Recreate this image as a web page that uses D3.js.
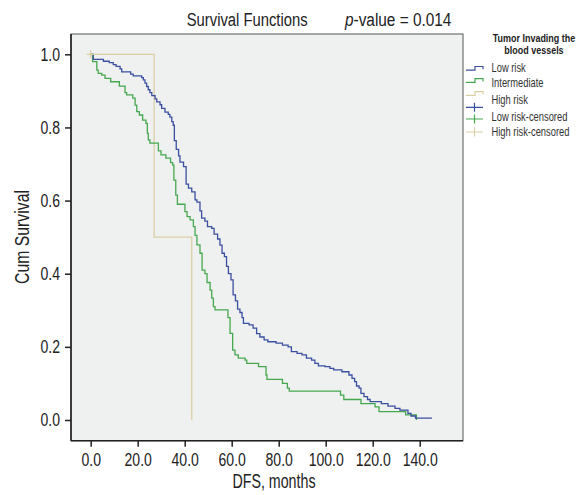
<!DOCTYPE html>
<html>
<head>
<meta charset="utf-8">
<script src="https://cdn.jsdelivr.net/npm/d3@7"></script>
<style>
  body { margin: 0; background: #fff; }
  svg text { font-family: 'Liberation Sans', Arial, sans-serif; fill: #222; }
</style>
</head>
<body>
<div id="chart"></div>
<script>
const blue  = '#3b4fa0';
const green = '#45a84f';
const tan   = '#d9cfa5';
const ink   = '#222';

// Low risk: event times (months) and survival after each step
const lowTimes = [1.1, 5.4, 7.9, 9.6, 10.8, 12.5, 13.2, 17.0, 18.1, 21.7, 22.4, 23.1, 23.8, 24.5, 25.2, 26.0,
  27.4, 28.1, 29.5, 30.2, 31.6, 33.0, 33.7, 34.5, 35.1, 35.6, 36.4, 37.4, 38.0, 39.5, 40.6, 41.6, 43.0,
  44.4, 45.2, 46.5, 47.2, 48.6, 49.7, 51.5, 52.5, 54.0, 55.0, 55.9, 56.9, 57.8, 58.6, 59.7, 60.6, 61.6,
  62.5, 63.5, 64.4, 65.0, 67.4, 69.1, 70.6, 72.0, 73.8, 75.4, 78.9, 81.6, 84.0, 85.4, 87.8, 89.9, 91.8,
  94.0, 95.4, 96.9, 99.7, 101.8, 103.4, 106.9, 109.9, 111.2, 112.3, 113.1, 114.2, 115.0, 116.3, 117.8,
  118.9, 123.7, 126.5, 129.5, 131.6, 135.0, 136.3, 138.2];
const lowSurv = [0.986, 0.981, 0.977, 0.972, 0.967, 0.960, 0.952, 0.946, 0.941, 0.936, 0.930, 0.921, 0.912, 0.903, 0.895, 0.887,
  0.878, 0.870, 0.862, 0.852, 0.842, 0.836, 0.828, 0.816, 0.806, 0.764, 0.740, 0.722, 0.705, 0.693, 0.645, 0.634, 0.624,
  0.602, 0.596, 0.572, 0.552, 0.544, 0.529, 0.524, 0.508, 0.495, 0.478, 0.456, 0.447, 0.420, 0.400, 0.383, 0.342, 0.326,
  0.303, 0.294, 0.280, 0.264, 0.260, 0.251, 0.236, 0.227, 0.219, 0.214, 0.210, 0.205, 0.200, 0.187, 0.182, 0.178, 0.169,
  0.164, 0.155, 0.148, 0.146, 0.141, 0.137, 0.132, 0.123, 0.114, 0.105, 0.093, 0.087, 0.073, 0.064, 0.056,
  0.050, 0.045, 0.038, 0.032, 0.027, 0.018, 0.011, 0.005];
const lowEnd = 145.2;

// Intermediate
const intTimes = [0.8, 2.6, 3.2, 4.7, 6.1, 8.5, 12.2, 14.6, 15.3, 17.9, 18.9, 19.6, 20.7, 22.1, 23.5, 24.1, 24.5,
  25.2, 28.8, 29.9, 32.0, 34.0, 34.9, 35.4, 36.2, 36.9, 40.1, 41.0, 42.3, 43.7, 44.4, 45.2, 46.5, 47.4, 48.6,
  49.5, 50.8, 51.5, 52.2, 52.9, 58.4, 59.3, 60.4, 61.4, 62.8, 65.7, 66.4, 71.4, 74.6, 75.0, 81.6, 83.7, 84.5,
  106.3, 107.7, 115.0, 121.0, 122.7, 134.0, 138.6];
const intSurv = [0.980, 0.957, 0.948, 0.943, 0.934, 0.925, 0.913, 0.895, 0.889, 0.880, 0.861, 0.843, 0.834, 0.820, 0.811, 0.784, 0.766,
  0.757, 0.736, 0.725, 0.716, 0.704, 0.697, 0.656, 0.615, 0.590, 0.570, 0.556, 0.547, 0.529, 0.505, 0.479, 0.456, 0.410, 0.400,
  0.376, 0.355, 0.333, 0.310, 0.301, 0.280, 0.237, 0.191, 0.178, 0.169, 0.164, 0.155, 0.146, 0.123, 0.111, 0.100, 0.087, 0.079,
  0.068, 0.056, 0.045, 0.036, 0.023, 0.014, 0.0];
const intEnd = 138.6;

// High risk
const highTimes = [27.0, 43.0];
const highSurv = [0.5, 0.0];
const highEnd = 43.0;
const highCensorTimes = [0];
const highCensorSurv = [1.0];

const xTicks = [0, 20, 40, 60, 80, 100, 120, 140];
const yTicks = [0, 0.2, 0.4, 0.6, 0.8, 1.0];

const legendLabels = ['Low risk', 'Intermediate', 'High risk', 'Low risk-censored', 'High risk-censored'];

const W = 582, H = 495;
const frame = { left: 71, top: 34, right: 463, bottom: 440.7 };
const K = 0.78; // condensed look

// squeeze text horizontally around its own x (keeps the anchor in place)
function squeeze(sel, k) {
  sel.each(function() {
    const el = d3.select(this);
    const x0 = +el.attr('x') || 0;
    const prev = el.attr('transform') || '';
    el.attr('transform', `${prev} translate(${x0 * (1 - k)},0) scale(${k},1)`);
  });
}

const svg = d3.select('#chart').append('svg').attr('width', W).attr('height', H);

const x = d3.scaleLinear().domain([0, 140]).range([90.7, 419.7]);
const y = d3.scaleLinear().domain([0, 1]).range([420, 54.3]);

// plot background + frame
svg.append('rect')
  .attr('x', frame.left).attr('y', frame.top)
  .attr('width', frame.right - frame.left).attr('height', frame.bottom - frame.top)
  .attr('fill', '#eff1f0').attr('stroke', '#555').attr('stroke-width', 1);

// curves
function steps(times, surv, end) {
  const pts = [{ t: 0, s: 1 }];
  times.forEach((t, i) => pts.push({ t, s: surv[i] }));
  pts.push({ t: end, s: surv[surv.length - 1] });
  return pts;
}
const line = d3.line().x(d => x(d.t)).y(d => y(d.s)).curve(d3.curveStepAfter);

const curves = [
  { pts: steps(highTimes, highSurv, highEnd), color: tan },
  { pts: steps(intTimes, intSurv, intEnd), color: green },
  { pts: steps(lowTimes, lowSurv, lowEnd), color: blue },
];
svg.append('g').selectAll('path').data(curves).join('path')
  .attr('d', d => line(d.pts))
  .attr('fill', 'none')
  .attr('stroke', d => d.color)
  .attr('stroke-width', 1.3);

// censor marks
const cens = highCensorTimes.map((t, i) => ({ t, s: highCensorSurv[i], color: tan }));
const cg = svg.append('g').selectAll('g').data(cens).join('g')
  .attr('transform', d => `translate(${x(d.t)},${y(d.s)})`);
cg.append('path').attr('d', 'M-4,0H4M0,-4V4').attr('stroke', d => d.color).attr('stroke-width', 1.3);

// axes
const xAxis = svg.append('g').attr('transform', `translate(0,${frame.bottom})`)
  .call(d3.axisBottom(x).tickValues(xTicks).tickFormat(d3.format('.1f')).tickSize(6).tickPadding(7))
  .call(a => a.select('.domain').remove())
  .attr('font-family', null);
xAxis.selectAll('line').attr('stroke', ink).attr('stroke-width', 1.5);
xAxis.selectAll('text').style('font-size', '18px').style('fill', ink);
squeeze(xAxis.selectAll('text'), K);

const yAxis = svg.append('g').attr('transform', `translate(${frame.left},0)`)
  .call(d3.axisLeft(y).tickValues(yTicks).tickFormat(d3.format('.1f')).tickSize(6).tickPadding(5))
  .call(a => a.select('.domain').remove())
  .attr('font-family', null);
yAxis.selectAll('line').attr('stroke', ink).attr('stroke-width', 1.5);
yAxis.selectAll('text').style('font-size', '18px').style('fill', ink);
squeeze(yAxis.selectAll('text'), K);

svg.append('line').attr('x1', frame.left).attr('x2', frame.left).attr('y1', frame.top).attr('y2', frame.bottom)
  .attr('stroke', ink).attr('stroke-width', 1.6);
svg.append('line').attr('x1', frame.left).attr('x2', frame.right).attr('y1', frame.bottom).attr('y2', frame.bottom)
  .attr('stroke', ink).attr('stroke-width', 1.6);

// titles
const t1 = svg.append('text').attr('x', 186.7).attr('y', 26.5).style('font-size', '19px').text('Survival Functions');
const pv = svg.append('text').attr('x', 345).attr('y', 26.5).style('font-size', '19px');
pv.append('tspan').style('font-style', 'italic').text('p');
pv.append('tspan').text('-value = 0.014');
squeeze(t1, K);
squeeze(pv, 0.81);

const yl = svg.append('text').attr('transform', 'translate(29,237) rotate(-90)')
  .attr('text-anchor', 'middle').style('font-size', '19.5px').text('Cum Survival');
const xl = svg.append('text').attr('x', 274).attr('y', 488)
  .attr('text-anchor', 'middle').style('font-size', '19.5px').text('DFS, months');
squeeze(yl, 0.81);
squeeze(xl, 0.73);

// legend
const lg = svg.append('g');
const lt = lg.selectAll('.lt').data(['Tumor Invading the', 'blood vessels']).join('text').attr('class', 'lt')
  .attr('x', 534).attr('y', (d, i) => 42.5 + i * 11.3).attr('text-anchor', 'middle')
  .style('font-size', '11.5px').style('font-weight', 'bold').text(d => d);
squeeze(lt, K);

const stepSyms = [{ c: blue, y: 68.3 }, { c: green, y: 80.5 }, { c: tan, y: 93.5 }];
lg.selectAll('.ls').data(stepSyms).join('path').attr('class', 'ls')
  .attr('d', d => `M466,${d.y + 1.8}H475V${d.y - 1.8}H483V${d.y + 1}`)
  .attr('fill', 'none').attr('stroke', d => d.c).attr('stroke-width', 1.2);

const plusSyms = [{ c: blue, y: 107.3 }, { c: green, y: 119 }, { c: tan, y: 132 }];
lg.selectAll('.lp').data(plusSyms).join('path').attr('class', 'lp')
  .attr('d', d => `M466,${d.y}H483M474.5,${d.y - 4.5}V${d.y + 4.5}`)
  .attr('stroke', d => d.c).attr('stroke-width', 1.2);

const labelY = [68.3, 83.3, 99.8, 116.5, 131.7];
const ll = lg.selectAll('.ll').data(legendLabels).join('text').attr('class', 'll')
  .attr('x', 491.5).attr('y', (d, i) => labelY[i]).attr('dy', '0.35em')
  .style('font-size', '12px').style('fill', '#333').text(d => d);
squeeze(ll, K);
</script>
</body>
</html>
